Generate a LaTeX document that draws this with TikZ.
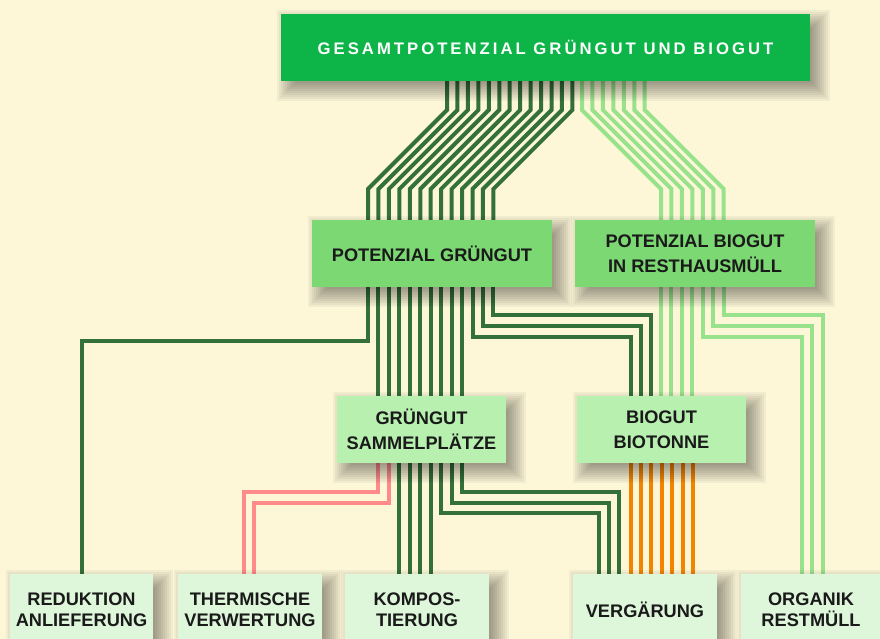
\documentclass[tikz,border=0pt]{standalone}
\usepackage{fontspec}
\setmainfont{Liberation Sans}
\newfontfamily\titlefont{Liberation Sans}[LetterSpace=18]
\definecolor{bgc}{HTML}{FDF7D8}
\definecolor{cTop}{HTML}{0DB548}
\definecolor{cPot}{HTML}{7CD872}
\definecolor{cMid}{HTML}{B8F0B0}
\definecolor{cBot}{HTML}{DEF7DA}
\definecolor{lDark}{HTML}{33703A}
\definecolor{lLight}{HTML}{98E28C}
\definecolor{lPink}{HTML}{FF8A8A}
\definecolor{lOrange}{HTML}{F28400}
\definecolor{txt}{HTML}{1A1A1A}
\pgfdeclarelayer{back}
\pgfdeclarelayer{shade}
\pgfsetlayers{back,shade,main}
\newcommand\myshadow[1]{%
  \foreach \r in {-12,-10,...,12}{%
    \fill[black,opacity=0.042] ([shift={(8-\r,8-\r)}]#1.north west) rectangle ([shift={(8+\r,8+\r)}]#1.south east);
  }}
\begin{document}
\begin{tikzpicture}[x=1pt,y=-1pt,line join=miter,
  box/.style={inner sep=0pt,align=center,text=txt,
    font=\fontsize{18.2}{24.5}\selectfont\bfseries},
  topbox/.style={box,fill=cTop,text=white,minimum width=529pt,minimum height=67pt,
    font=\titlefont\fontsize{16.7}{20}\selectfont\bfseries},
  potbox/.style={box,fill=cPot,minimum width=240pt,minimum height=67pt},
  midbox/.style={box,fill=cMid,minimum width=169pt,minimum height=67pt},
  botbox/.style={box,fill=cBot,minimum width=144pt,minimum height=71pt,
    font=\fontsize{18.2}{21.5}\selectfont\bfseries},
  wire/.style={line width=4pt},
  dk/.style={wire,draw=lDark},
  lt/.style={wire,draw=lLight},
  pk/.style={wire,draw=lPink},
  og/.style={wire,draw=lOrange}]
\useasboundingbox (0,0) rectangle (880,639);

\node[topbox] (top) at (545.5,47.5) {GESAMTPOTENZIAL GRÜNGUT UND BIOGUT};
\node[potbox] (pg) at (432,253.5) {POTENZIAL GRÜNGUT};
\node[potbox] (pb) at (695,253.5) {POTENZIAL BIOGUT\\IN RESTHAUSMÜLL};
\node[midbox] (sp) at (421.5,429.5) {GRÜNGUT\\SAMMELPLÄTZE};
\node[midbox] (bt) at (661.5,429.5) {BIOGUT\\BIOTONNE};
\node[botbox,minimum width=143pt] (red) at (81.5,609.5) {REDUKTION\\ANLIEFERUNG};
\node[botbox] (th) at (250,609.5) {THERMISCHE\\VERWERTUNG};
\node[botbox] (ko) at (417,609.5) {KOMPOS-\\TIERUNG};
\node[botbox] (ve) at (645,609.5) {VERGÄRUNG};
\node[botbox,minimum width=140pt] (org) at (811,609.5) {ORGANIK\\RESTMÜLL};

\begin{pgfonlayer}{shade}
\myshadow{top}\myshadow{pg}\myshadow{pb}\myshadow{sp}\myshadow{bt}
\myshadow{red}\myshadow{th}\myshadow{ko}\myshadow{ve}\myshadow{org}
\end{pgfonlayer}

\begin{pgfonlayer}{back}
\fill[bgc] (0,0) rectangle (880,639);
% top -> potenzial gruengut
\foreach \i in {0,...,12}{
  \pgfmathsetmacro\xa{447+10.45*\i}
  \pgfmathsetmacro\xb{\xa-79}
  \draw[dk] (top.south -| \xa,0) -- (\xa,110) -- (\xb,189) -- (pg.north -| \xb,0);
}
% top -> potenzial biogut
\foreach \i in {0,...,6}{
  \pgfmathsetmacro\xa{582+10.45*\i}
  \pgfmathsetmacro\xb{\xa+79}
  \draw[lt] (top.south -| \xa,0) -- (\xa,110) -- (\xb,189) -- (pb.north -| \xb,0);
}
% potenzial gruengut -> reduktion
\draw[dk] (pg.south -| 368,0) -- (368,341) -- (82,341) -- (red.north -| 82,0);
% potenzial gruengut -> sammelplaetze
\foreach \i in {1,...,9}{
  \pgfmathsetmacro\xa{368+10.45*\i}
  \draw[dk] (pg.south -| \xa,0) -- (sp.north -| \xa,0);
}
% potenzial gruengut -> biotonne
\foreach \i/\yy in {10/337,11/326,12/315}{
  \pgfmathsetmacro\xa{368+10.45*\i}
  \pgfmathsetmacro\xb{630.5+10.45*(\i-10)}
  \draw[dk] (pg.south -| \xa,0) -- (\xa,\yy) -- (\xb,\yy) -- (bt.north -| \xb,0);
}
% potenzial biogut -> biotonne
\foreach \i in {0,...,3}{
  \pgfmathsetmacro\xa{661+10.45*\i}
  \draw[lt] (pb.south -| \xa,0) -- (bt.north -| \xa,0);
}
% potenzial biogut -> organik
\foreach \i/\yy in {4/337,5/326,6/315}{
  \pgfmathsetmacro\xa{661+10.45*\i}
  \pgfmathsetmacro\xb{802+10.45*(\i-4)}
  \draw[lt] (pb.south -| \xa,0) -- (\xa,\yy) -- (\xb,\yy) -- (org.north -| \xb,0);
}
% sammelplaetze -> thermische
\foreach \i/\yy in {1/492,2/503}{
  \pgfmathsetmacro\xa{368+10.45*\i}
  \pgfmathsetmacro\xb{244+10.45*(\i-1)}
  \draw[pk] (sp.south -| \xa,0) -- (\xa,\yy) -- (\xb,\yy) -- (th.north -| \xb,0);
}
% sammelplaetze -> kompostierung
\foreach \i in {3,...,6}{
  \pgfmathsetmacro\xa{368+10.45*\i}
  \draw[dk] (sp.south -| \xa,0) -- (ko.north -| \xa,0);
}
% sammelplaetze -> vergaerung
\foreach \i/\yy in {7/513,8/503,9/492}{
  \pgfmathsetmacro\xa{368+10.45*\i}
  \pgfmathsetmacro\xb{598.5+10.45*(\i-7)}
  \draw[dk] (sp.south -| \xa,0) -- (\xa,\yy) -- (\xb,\yy) -- (ve.north -| \xb,0);
}
% biotonne -> vergaerung
\foreach \i in {0,...,6}{
  \pgfmathsetmacro\xa{630.5+10.45*\i}
  \draw[og] (bt.south -| \xa,0) -- (ve.north -| \xa,0);
}
\end{pgfonlayer}
\end{tikzpicture}
\end{document}
